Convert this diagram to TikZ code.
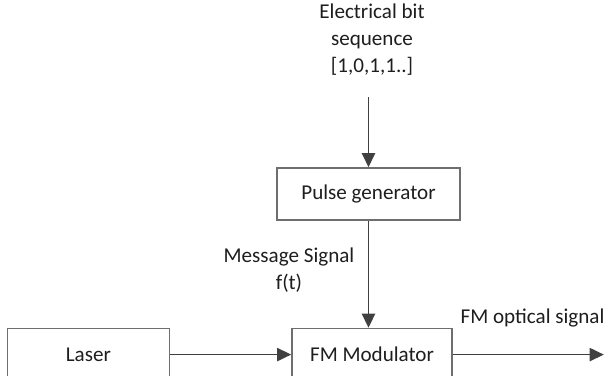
\documentclass[tikz,border=0pt]{standalone}
\usepackage{fontspec}
\setmainfont{Carlito}
\usepackage{xcolor}
\usepackage{tikz}
\usetikzlibrary{arrows.meta, positioning}
\definecolor{linegray}{RGB}{110,110,110}
\definecolor{arrowgray}{RGB}{64,64,64}
\definecolor{textdark}{RGB}{30,30,30}
\tikzset{
  block/.style={rectangle, draw=linegray, line width=0.9pt, minimum height=1.04cm,
    inner sep=0pt, align=center, text=textdark, font=\fontsize{12}{15.3}\selectfont},
  label/.style={inner sep=0pt, align=center, text=textdark, font=\fontsize{12}{15.3}\selectfont},
  arrow/.style={-{Triangle[length=8pt, width=7.5pt]}, line width=0.9pt, color=arrowgray},
}

\begin{document}
\begin{tikzpicture}
  \useasboundingbox (0,0) rectangle (12.16,-7.5);
  \node[block, minimum width=3.66cm] (pulse) at (7.37,-3.88) {Pulse generator};
  \node[block, minimum width=3.2cm, below=2.14cm of pulse, xshift=0.07cm] (fm) {FM Modulator};
  \node[block, minimum width=3.24cm, left=2.42cm of fm] (laser) {Laser};
  \coordinate[above=1.4cm of pulse.north] (src);
  \coordinate[right=3.02cm of fm.east] (out);
  \node[label] (bits) at (7.44,-0.79) {Electrical bit\\sequence\\{[1,0,1,1..]}};
  \node[label] (msg) at (5.78,-5.41) {Message Signal\\f(t)};
  \node[label, anchor=base] (fmout) at (10.65,-6.46) {FM optical signal};
  \draw[arrow] (src) -- (pulse.north);
  \draw[arrow] (pulse.south) -- (pulse.south |- fm.north);
  \draw[arrow] (laser) -- (fm);
  \draw[arrow] (fm) -- (out);
\end{tikzpicture}
\end{document}
